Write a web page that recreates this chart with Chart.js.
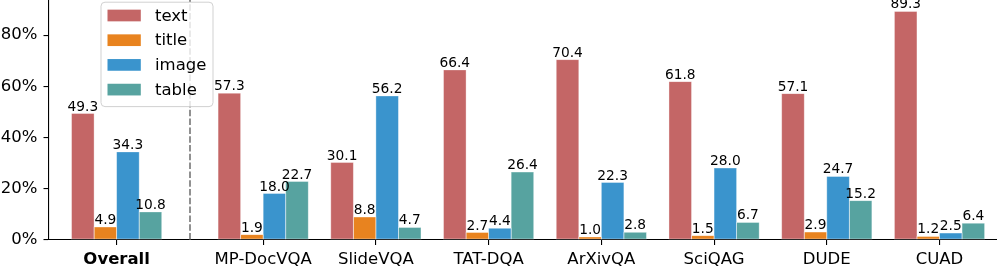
<!DOCTYPE html>
<html><head><meta charset="utf-8">
<script src="https://cdn.jsdelivr.net/npm/chart.js@4"></script>
<style>html,body{margin:0;padding:0;background:#fff;} canvas{display:block;}</style>
</head><body>
<canvas id="c" width="997" height="268"></canvas>
<script>
const categories = ['Overall','MP-DocVQA','SlideVQA','TAT-DQA','ArXivQA','SciQAG','DUDE','CUAD'];
const seriesNames = ['text','title','image','table'];
const textValues  = [49.3, 57.3, 30.1, 66.4, 70.4, 61.8, 57.1, 89.3];
const titleValues = [4.9, 1.9, 8.8, 2.7, 1.0, 1.5, 2.9, 1.2];
const imageValues = [34.3, 18.0, 56.2, 4.4, 22.3, 28.0, 24.7, 2.5];
const tableValues = [10.8, 22.7, 4.7, 26.4, 2.8, 6.7, 15.2, 6.4];
const yTickValues = [0, 20, 40, 60, 80];

const colors = ['#C46666', '#E8831F', '#3A94CD', '#57A3A0'];
const GAP_AFTER_OVERALL = 0.3;
const catPos = categories.map((c, i) => i === 0 ? 0 : i + GAP_AFTER_OVERALL);
const FONT = "'DejaVu Sans', sans-serif";
const allSeries = [textValues, titleValues, imageValues, tableValues];
const yMax = Math.max(...allSeries.flat()) * 1.05;

const datasets = allSeries.map((vals, k) => ({
  label: seriesNames[k],
  data: vals.map((v, i) => ({x: catPos[i], y: v})),
  backgroundColor: colors[k],
  borderWidth: 0,
  categoryPercentage: 0.8,
  barPercentage: 1.0
}));

const dividerPlugin = {
  id: 'divider',
  beforeDatasetsDraw(chart) {
    const {ctx, chartArea, scales} = chart;
    const x = Math.round(scales.x.getPixelForValue((catPos[0] + catPos[1]) / 2));
    ctx.save();
    ctx.strokeStyle = '#858585';
    ctx.lineWidth = 1.8;
    ctx.setLineDash([6.5, 2.3]);
    ctx.beginPath();
    ctx.moveTo(x, chartArea.bottom);
    ctx.lineTo(x, chartArea.top);
    ctx.stroke();
    ctx.restore();
  }
};

const barEdgePlugin = {
  id: 'barEdges',
  afterDatasetsDraw(chart) {
    const {ctx} = chart;
    ctx.save();
    ctx.strokeStyle = 'rgba(255,255,255,0.45)';
    ctx.lineWidth = 0.8;
    chart.data.datasets.forEach((ds, k) => {
      chart.getDatasetMeta(k).data.forEach((el) => {
        const w = el.width;
        ctx.strokeRect(el.x - w / 2, el.y, w, el.base - el.y);
      });
    });
    ctx.restore();
  }
};

const barLabelPlugin = {
  id: 'barLabels',
  afterDatasetsDraw(chart) {
    const {ctx} = chart;
    ctx.save();
    ctx.font = '13.75px ' + FONT;
    ctx.fillStyle = '#000';
    ctx.textAlign = 'center';
    ctx.textBaseline = 'alphabetic';
    chart.data.datasets.forEach((ds, k) => {
      const meta = chart.getDatasetMeta(k);
      meta.data.forEach((el, i) => {
        ctx.fillText(ds.data[i].y.toFixed(1), el.x, el.y - 3);
      });
    });
    ctx.restore();
  }
};

const legendPlugin = {
  id: 'boxLegend',
  afterDraw(chart) {
    const {ctx, chartArea} = chart;
    const left = chartArea.left + 51.5, top = chartArea.top + 1.7;
    const w = 112, rowH = 24.7, firstC = 13.8;
    const h = firstC + rowH * 3 + 16.5;
    ctx.save();
    ctx.fillStyle = 'rgba(255,255,255,0.8)';
    ctx.strokeStyle = 'rgba(204,204,204,0.9)';
    ctx.lineWidth = 1;
    ctx.beginPath();
    ctx.roundRect(left + 0.5, top + 0.5, w, h, 4);
    ctx.fill();
    ctx.stroke();
    ctx.font = '16.5px ' + FONT;
    ctx.textAlign = 'left';
    ctx.textBaseline = 'alphabetic';
    chart.data.datasets.forEach((ds, k) => {
      const cy = top + firstC + rowH * k;
      ctx.fillStyle = ds.backgroundColor;
      ctx.fillRect(left + 7, cy - 5.85, 33.3, 11.7);
      ctx.fillStyle = '#000';
      ctx.fillText(ds.label, left + 54.5, cy + 5.2);
    });
    ctx.restore();
  }
};

new Chart(document.getElementById('c'), {
  type: 'bar',
  data: {datasets},
  options: {
    responsive: false,
    animation: false,
    devicePixelRatio: 1,
    layout: {padding: 0},
    plugins: {legend: {display: false}, tooltip: {enabled: false}},
    scales: {
      x: {
        type: 'linear',
        min: -0.6,
        max: 7.81,
        offset: false,
        bounds: 'data',
        afterBuildTicks(scale) { scale.ticks = catPos.map(v => ({value: v})); },
        afterFit(scale) { scale.height = 28.5; scale.paddingLeft = 0; scale.paddingRight = 0; },
        ticks: {
          autoSkip: false, maxRotation: 0, minRotation: 0,
          color: '#000', padding: 5,
          font: (c) => ({family: FONT, size: 16.5, weight: c.index === 0 ? 'bold' : 'normal'}),
          callback: (v, i) => categories[i]
        },
        grid: {display: true, offset: false, drawOnChartArea: false, drawTicks: true, tickLength: 5.5, color: '#000', lineWidth: 1.1},
        border: {display: true, color: '#000', width: 1.1}
      },
      y: {
        type: 'linear',
        min: 0,
        max: yMax,
        afterBuildTicks(scale) { scale.ticks = yTickValues.map(v => ({value: v})); },
        afterFit(scale) { scale.width = 49; scale.paddingTop = 0; scale.paddingBottom = 0; },
        ticks: {
          color: '#000', padding: 6,
          font: {family: FONT, size: 16.5},
          callback: (v) => v + '%'
        },
        grid: {display: true, drawOnChartArea: false, drawTicks: true, tickLength: 5.5, color: '#000', lineWidth: 1.1},
        border: {display: true, color: '#000', width: 1.1}
      }
    }
  },
  plugins: [dividerPlugin, barEdgePlugin, barLabelPlugin, legendPlugin]
});
</script>
</body></html>
